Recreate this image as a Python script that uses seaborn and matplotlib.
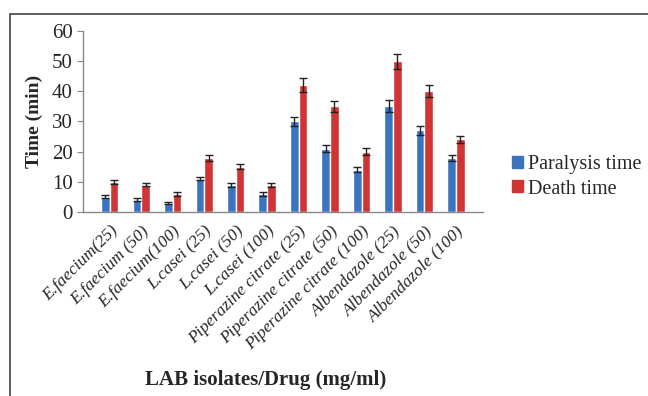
import numpy as np
import pandas as pd
import matplotlib
matplotlib.use('Agg')
import matplotlib.pyplot as plt
import matplotlib.patches as mpatches
import seaborn as sns

# data
groups = ['E.faecium(25)', 'E.faecium (50)', 'E.faecium(100)', 'L.casei (25)', 'L.casei (50)',
          'L.casei (100)', 'Piperazine citrate (25)', 'Piperazine citrate (50)',
          'Piperazine citrate (100)', 'Albendazole (25)', 'Albendazole (50)', 'Albendazole (100)']
paralysis = [5, 4, 3, 11, 9, 6, 30, 21, 14, 35, 27, 18]
death = [10, 9, 6, 18, 15, 9, 42, 35, 20, 50, 40, 24]
paralysis_err = [0.5, 0.5, 0.3, 0.6, 0.6, 0.6, 1.5, 1.2, 0.8, 2.0, 1.5, 1.0]
death_err = [0.6, 0.5, 0.6, 1.0, 0.8, 0.6, 2.3, 1.8, 1.2, 2.5, 2.0, 1.2]
series = ['Paralysis time', 'Death time']

df = pd.DataFrame({
    'group': groups * 2,
    'series': [series[0]] * len(groups) + [series[1]] * len(groups),
    'value': paralysis + death,
    'err': paralysis_err + death_err,
})

sns.set_style('white')
plt.rcParams['font.family'] = ['Liberation Serif', 'DejaVu Serif']

fig = plt.figure(figsize=(6.48, 3.96), dpi=100)
ax = fig.add_axes([0.128, 0.465, 0.617, 0.457])

palette = {'Paralysis time': '#3A74C0', 'Death time': '#CF3535'}
sns.barplot(data=df, x='group', y='value', hue='series', palette=palette,
            errorbar=None, width=0.55, ax=ax, saturation=1, legend=False)

# error bars on top of each bar
for i, s in enumerate(series):
    sub = df[df['series'] == s]
    cont = ax.containers[i]
    xs = [p.get_x() + p.get_width() / 2 for p in cont.patches]
    ax.errorbar(xs, sub['value'], yerr=sub['err'], fmt='none', ecolor='#222222',
                elinewidth=1, capsize=3, capthick=1)

ax.set_ylim(0, 60)
ax.set_yticks(range(0, 61, 10))
ax.tick_params(axis='y', labelsize=15, length=4, direction='out', color='#888888', left=True)
ax.tick_params(axis='x', length=0, pad=8)
ax.set_xticks(range(len(groups)))
ax.set_xticklabels(groups, rotation=45, ha='right', rotation_mode='anchor',
                   fontsize=12.5, style='italic')
ax.set_ylabel('Time (min)', fontsize=14, fontweight='bold', labelpad=6)
ax.set_xlabel('')
for side in ['top', 'right']:
    ax.spines[side].set_visible(False)
for side in ['left', 'bottom']:
    ax.spines[side].set_color('#888888')
    ax.spines[side].set_linewidth(1)

fig.text(0.41, 0.04, 'LAB isolates/Drug (mg/ml)', ha='center', va='center',
         fontsize=15, fontweight='bold')

handles = [mpatches.Patch(color=palette[s], label=s) for s in series]
fig.legend(handles=handles, loc='center left', bbox_to_anchor=(0.79, 0.553),
           frameon=False, fontsize=14.5, handlelength=0.55, handleheight=0.55,
           handletextpad=0.25, labelspacing=0.25, borderpad=0, borderaxespad=0)

# frame around figure
fig.patches.append(mpatches.Rectangle((10 / 648, -0.05), 1.2, 1 - 14 / 396 + 0.05,
                                      transform=fig.transFigure, fill=False,
                                      edgecolor='#444444', linewidth=1.2))

fig.savefig('out.png', dpi=100)
